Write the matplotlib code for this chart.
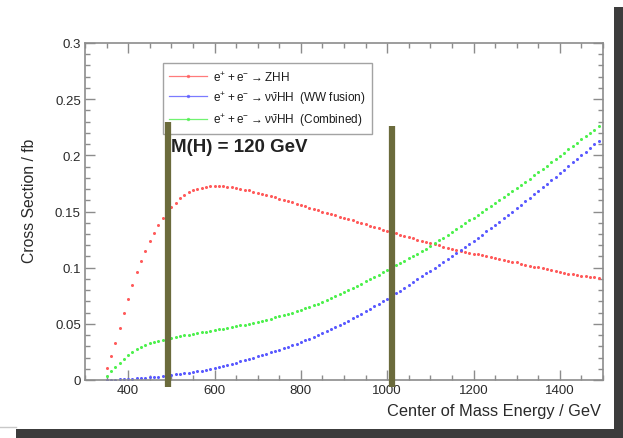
import numpy as np
import matplotlib
matplotlib.use("Agg")
import matplotlib.pyplot as plt
from matplotlib.patches import Rectangle
from matplotlib.lines import Line2D
from matplotlib.ticker import MultipleLocator, FuncFormatter

plt.rcParams['font.family'] = ['Liberation Sans', 'DejaVu Sans']

# centre-of-mass energy (GeV)
energy = list(range(350, 1500, 10))

zhh = [0.011, 0.021, 0.033, 0.046, 0.060, 0.072, 0.085, 0.096, 0.106, 0.115,
       0.124, 0.131, 0.138, 0.144, 0.150, 0.154, 0.158, 0.162, 0.165, 0.167,
       0.169, 0.170, 0.171, 0.172, 0.1725, 0.1728, 0.1728, 0.1725, 0.172, 0.1715,
       0.171, 0.1703, 0.1695, 0.1687, 0.1678, 0.1668, 0.1659, 0.1650, 0.1638, 0.1627,
       0.1615, 0.1604, 0.1592, 0.1581, 0.1569, 0.1558, 0.1546, 0.1535, 0.1523, 0.1512,
       0.1500, 0.1489, 0.1477, 0.1466, 0.1454, 0.1443, 0.1431, 0.1420, 0.1408, 0.1397,
       0.1385, 0.1374, 0.1362, 0.1351, 0.1339, 0.1328, 0.1316, 0.1305, 0.1293, 0.1282,
       0.1272, 0.1261, 0.1250, 0.1239, 0.1228, 0.1218, 0.1208, 0.1198, 0.1188, 0.1178,
       0.1169, 0.1160, 0.1151, 0.1142, 0.1134, 0.1126, 0.1118, 0.1110, 0.1102, 0.1094,
       0.1086, 0.1078, 0.1070, 0.1062, 0.1054, 0.1046, 0.1037, 0.1028, 0.1019, 0.1010,
       0.1002, 0.0994, 0.0986, 0.0978, 0.0970, 0.0962, 0.0955, 0.0948, 0.0941, 0.0935,
       0.0929, 0.0923, 0.0918, 0.0913, 0.0908]

ww_fusion = [0.0, 0.0002, 0.0004, 0.0006, 0.0008, 0.0010, 0.0012, 0.0014, 0.0017, 0.0020,
             0.0023, 0.0027, 0.0031, 0.0036, 0.0041, 0.0046, 0.0050, 0.0055, 0.0060, 0.0066,
             0.0072, 0.0078, 0.0084, 0.0091, 0.0098, 0.0105, 0.0114, 0.0123, 0.0133, 0.0143,
             0.0154, 0.0165, 0.0176, 0.0188, 0.0200, 0.0212, 0.0223, 0.0234, 0.0246, 0.0258,
             0.0270, 0.0283, 0.0296, 0.0310, 0.0324, 0.0338, 0.0353, 0.0368, 0.0384, 0.0400,
             0.0417, 0.0434, 0.0452, 0.0470, 0.0489, 0.0508, 0.0528, 0.0548, 0.0569, 0.0590,
             0.0611, 0.0633, 0.0655, 0.0678, 0.0701, 0.0724, 0.0748, 0.0772, 0.0796, 0.0821,
             0.0846, 0.0871, 0.0897, 0.0923, 0.0949, 0.0970, 0.0996, 0.1022, 0.1048, 0.1074,
             0.1101, 0.1128, 0.1155, 0.1182, 0.1210, 0.1238, 0.1266, 0.1294, 0.1323, 0.1352,
             0.1381, 0.1410, 0.1440, 0.1470, 0.1500, 0.1530, 0.1560, 0.1590, 0.1621, 0.1652,
             0.1683, 0.1714, 0.1745, 0.1777, 0.1809, 0.1841, 0.1873, 0.1905, 0.1937, 0.1969,
             0.2001, 0.2033, 0.2066, 0.2099, 0.2132]

combined = [0.004, 0.008, 0.012, 0.0155, 0.019, 0.022, 0.025, 0.0275, 0.0295, 0.031,
            0.0325, 0.0337, 0.0348, 0.0358, 0.0367, 0.0375, 0.0383, 0.0390, 0.0397, 0.0404,
            0.0410, 0.0417, 0.0423, 0.0430, 0.0436, 0.0443, 0.0450, 0.0457, 0.0464, 0.0471,
            0.0478, 0.0486, 0.0494, 0.0502, 0.0510, 0.0519, 0.0528, 0.0537, 0.0547, 0.0557,
            0.0567, 0.0578, 0.0589, 0.0600, 0.0612, 0.0626, 0.0640, 0.0654, 0.0668, 0.0681,
            0.0695, 0.0712, 0.0729, 0.0747, 0.0766, 0.0785, 0.0803, 0.0821, 0.0840, 0.0859,
            0.0878, 0.0898, 0.0918, 0.0938, 0.0958, 0.0978, 0.0999, 0.1020, 0.1041, 0.1062,
            0.1083, 0.1104, 0.1126, 0.1148, 0.1170, 0.1195, 0.1218, 0.1243, 0.1268, 0.1293,
            0.1318, 0.1343, 0.1368, 0.1394, 0.1420, 0.1446, 0.1472, 0.1498, 0.1524, 0.1550,
            0.1576, 0.1602, 0.1628, 0.1655, 0.1682, 0.1709, 0.1737, 0.1765, 0.1793, 0.1822,
            0.1851, 0.1880, 0.1909, 0.1938, 0.1967, 0.1996, 0.2025, 0.2054, 0.2083, 0.2112,
            0.2141, 0.2170, 0.2199, 0.2228, 0.2257]

labels = [r'$\mathregular{e^{+} + e^{-} \rightarrow ZHH}$',
          r'$\mathregular{e^{+} + e^{-} \rightarrow \nu\bar{\nu}HH}$  (WW fusion)',
          r'$\mathregular{e^{+} + e^{-} \rightarrow \nu\bar{\nu}HH}$  (Combined)']
colors = ['#ff5a5a', '#5a5aff', '#4df04d']

marker_energies = [492, 1012]
marker_tops = [0.2297, 0.2262]

W, H = 623, 439
fig = plt.figure(figsize=(W / 100, H / 100), dpi=100)
fig.patch.set_facecolor('white')

# shadow frame
fig.patches.append(Rectangle((614 / W, 0), 9 / W, 1 - 8 / H, transform=fig.transFigure,
                             facecolor='#3c3c3c', edgecolor='none', zorder=0))
fig.patches.append(Rectangle((16 / W, 0), 1 - 16 / W, 9 / H, transform=fig.transFigure,
                             facecolor='#3c3c3c', edgecolor='none', zorder=0))
fig.lines.append(Line2D([0, 16 / W], [1 - 428 / H, 1 - 428 / H], transform=fig.transFigure,
                        color='#c8c8c8', lw=1))

ax = fig.add_axes([85 / W, 1 - 381 / H, 518 / W, 337 / H])

for yv, c, lab in zip([zhh, ww_fusion, combined], colors, labels):
    ax.plot(energy, yv, linestyle='none', marker='o', markersize=2.2,
            markeredgewidth=0, color=c, label=lab)

ax.set_xlim(300, 1500)
ax.set_ylim(0, 0.3)
ax.xaxis.set_major_locator(MultipleLocator(200))
ax.xaxis.set_minor_locator(MultipleLocator(50))
ax.yaxis.set_major_locator(MultipleLocator(0.05))
ax.yaxis.set_minor_locator(MultipleLocator(0.01))
ax.yaxis.set_major_formatter(FuncFormatter(lambda v, p: '%g' % round(v, 3)))
ax.tick_params(which='both', direction='in', top=True, right=True,
               color='#8c8c8c', labelcolor='#2a2a2a', labelsize=9.5, width=1)
ax.tick_params(which='major', length=7, pad=3)
ax.tick_params(which='minor', length=3.5)
for s in ax.spines.values():
    s.set_color('#8c8c8c')
    s.set_linewidth(1.2)

# axis titles
fig.text(30 / W, 1 - 201 / H, 'Cross Section / fb', rotation=90, ha='center', va='center',
         fontsize=11.3, color='#2a2a2a')
fig.text(601 / W, 1 - 412 / H, 'Center of Mass Energy / GeV', ha='right', va='center',
         fontsize=11.8, color='#2a2a2a')

leg = ax.legend(loc='upper left', bbox_to_anchor=(0.150, 0.735, 0.405, 0.205),
                mode='expand', fontsize=8.5, frameon=True, fancybox=False,
                edgecolor='#8c8c8c', handlelength=3.2, handletextpad=0.5,
                labelspacing=0.45, borderpad=0.55, borderaxespad=0, markerscale=1.1)
leg.get_frame().set_linewidth(1.0)
for h in leg.legend_handles:
    h.set_linestyle('-')
    h.set_linewidth(0.9)
    h.set_alpha(0.8)
for t in leg.get_texts():
    t.set_color('#1a1a1a')

ax.text(0.166, 0.694, 'M(H) = 120 GeV', transform=ax.transAxes, fontsize=13.5,
        fontweight='bold', color='#222222', va='center', ha='left', zorder=10)

for e, top in zip(marker_energies, marker_tops):
    ax.plot([e, e], [-0.006, top], color='#6b6b3c', lw=4.5, solid_capstyle='butt',
            clip_on=False, zorder=11)

fig.savefig('out.png', dpi=100)
